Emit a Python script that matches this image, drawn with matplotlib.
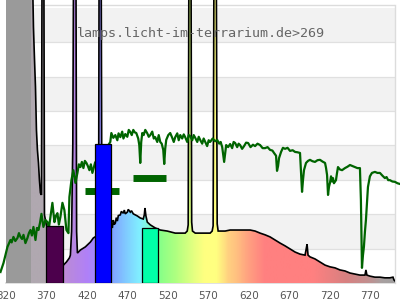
import numpy as np
import matplotlib
matplotlib.use("Agg")
import matplotlib.pyplot as plt
from matplotlib.colors import LinearSegmentedColormap
from matplotlib.patches import Polygon

# ---- data ----
lamp_nm = [320.0, 351.4, 352.7, 353.9, 355.1, 356.4, 357.6, 358.8, 360.1, 361.3, 362.5, 363.8,
           364.8, 366.5, 367.5, 368.7, 369.9, 380.0, 389.7, 390.9, 394.6, 398.3, 399.5,
           401.0, 402.5, 403.9, 406.1, 407.2, 408.2, 411.9, 418.0, 424.2, 427.9, 434.3,
           435.2, 437.2, 438.5, 446.4, 450.1, 451.3, 452.5, 453.7, 455.0, 456.2, 457.5, 458.7,
           461.2, 462.4, 464.9, 466.1, 467.3, 469.8, 471.0, 473.5, 475.0, 477.2, 482.1, 485.8,
           489.5, 490.8, 491.6, 492.8, 494.5, 498.2, 504.3, 510.5, 519.1, 529.0, 535.2, 541.3,
           543.8, 545.0, 546.2, 548.2, 549.3, 550.3, 553.7, 559.8, 566.0, 572.1, 574.6, 575.8,
           577.2, 579.3, 580.8, 582.0, 584.5, 590.6, 596.8, 609.1, 621.5, 627.6, 633.8, 640.0,
           646.1, 652.3, 658.5, 664.6, 670.8, 677.0, 683.1, 689.3, 690.5, 691.8, 693.0, 695.4,
           701.6, 707.8, 714.0, 720.1, 726.3, 732.4, 738.6, 744.8, 750.9, 757.1, 763.3, 764.5,
           765.7, 769.4, 775.6, 781.8, 787.9, 794.1, 797.9, 799.1, 800.4]
lamp_val = [12, 12, 9.0, 7.44, 6.57, 5.70, 4.45, 3.87, 3.49, 2.99, 2.62, 2.56,
            12, 12, 1.98, 1.83, 1.69, 1.00, 0.52, 0.52, 0.61, 0.73, 0.81,
            1.5, 4.0, 12, 12, 1.5, 0.87, 0.96, 1.05, 1.19, 1.31, 1.40,
            12, 12, 1.45, 1.55, 1.69, 1.60, 1.83, 1.70, 1.74, 1.90, 1.80, 1.96,
            1.98, 2.08, 2.03, 2.12, 2.01, 2.06, 2.14, 2.06, 2.10, 2.01, 1.95, 1.89,
            1.86, 1.98, 2.18, 1.95, 1.77, 1.69, 1.60, 1.54, 1.51, 1.45, 1.45, 1.45,
            1.51, 1.69, 12, 12, 1.77, 1.51, 1.45, 1.45, 1.45, 1.45, 1.51, 1.66,
            12, 12, 1.72, 1.51, 1.51, 1.51, 1.54, 1.54, 1.54, 1.51, 1.45, 1.40,
            1.34, 1.25, 1.16, 1.08, 0.99, 0.90, 0.84, 0.81, 0.96, 1.13, 0.81, 0.76,
            0.70, 0.61, 0.52, 0.47, 0.44, 0.38, 0.35, 0.29, 0.26, 0.23, 0.23, 0.38,
            0.23, 0.20, 0.17, 0.17, 0.15, 0.15, 0.17, 0.09, 0.06]

sun_nm = [313.2, 316.9, 321.8, 325.5, 327.0, 329.2, 331.5, 334.2, 336.0, 337.9, 339.8, 341.6,
          344.0, 346.5, 348.3, 350.2, 352.0, 353.9, 356.4, 358.2, 360.1, 362.0, 363.8, 366.2,
          368.7, 371.2, 373.0, 374.9, 377.3, 379.8, 381.6, 383.5, 385.3, 387.2, 389.7, 392.1,
          394.6, 397.1, 398.3, 400.8, 403.2, 405.7, 408.2, 410.0, 411.9, 413.7, 415.6, 417.4,
          419.3, 421.1, 423.0, 424.8, 426.7, 430.0, 436.0, 442.0, 446.4, 448.8, 450.1, 452.5,
          455.0, 457.5, 459.0, 461.2, 463.5, 465.0, 467.3, 469.8, 471.6, 473.5, 475.3, 477.2,
          479.0, 480.9, 483.3, 484.6, 485.8, 487.0, 488.3, 490.0, 492.0, 494.5, 496.3, 498.2,
          500.6, 502.5, 504.3, 506.8, 508.6, 510.5, 512.3, 514.2, 515.4, 516.6, 517.9, 520.4,
          522.8, 525.3, 527.2, 529.0, 531.5, 533.3, 535.2, 537.6, 539.5, 541.3, 543.8, 545.6,
          547.5, 550.0, 551.8, 553.7, 556.2, 558.0, 559.8, 562.3, 564.1, 566.0, 568.4, 570.3,
          572.1, 575.2, 578.3, 580.8, 583.3, 585.1, 587.0, 589.4, 591.9, 594.3, 596.8, 599.3,
          601.1, 603.0, 605.5, 607.3, 609.1, 611.6, 614.0, 616.5, 619.0, 622.0, 625.0, 627.6,
          630.6, 633.8, 636.9, 640.0, 643.0, 646.1, 649.0, 651.0, 653.5, 654.7, 656.0, 657.2,
          659.7, 662.0, 664.6, 667.7, 670.8, 674.0, 677.0, 680.0, 683.1, 684.4, 685.6, 686.8,
          688.0, 690.5, 693.0, 695.4, 698.5, 701.6, 704.7, 707.8, 710.9, 714.0, 715.2, 716.5,
          717.7, 718.9, 720.1, 721.4, 722.6, 723.8, 725.0, 727.5, 728.8, 730.0, 732.4, 735.0,
          738.6, 741.7, 744.8, 747.8, 750.9, 754.0, 757.1, 758.3, 759.6, 760.8, 762.0, 763.3,
          764.5, 765.7, 767.0, 769.4, 771.9, 775.6, 778.7, 781.8, 784.9, 787.9, 790.0, 792.0,
          794.1, 797.2, 800.4, 803.4, 806.3]
sun_val = [0.32, 0.58, 1.05, 1.25, 1.18, 1.34, 1.22, 1.31, 1.45, 1.34, 1.28, 1.40,
           1.16, 1.31, 1.45, 1.54, 1.38, 1.63, 1.25, 1.60, 1.54, 1.75, 2.01, 1.63,
           1.83, 1.77, 1.60, 1.92, 2.33, 1.77, 1.95, 2.03, 1.70, 1.92, 2.33, 2.12,
           1.54, 1.45, 2.50, 2.99, 3.28, 2.91, 3.20, 3.45, 3.37, 3.52, 3.34, 3.55,
           3.49, 3.40, 3.28, 3.45, 3.20, 3.50, 3.70, 3.90, 4.01, 4.10, 4.36, 4.22,
           4.30, 4.15, 4.35, 4.24, 4.40, 4.20, 4.33, 4.25, 4.45, 4.39, 4.30, 4.45,
           4.38, 4.36, 4.20, 4.01, 3.49, 4.10, 4.36, 4.30, 4.45, 4.35, 4.25, 4.30,
           4.40, 4.20, 4.24, 4.10, 4.30, 4.10, 4.05, 3.87, 3.46, 3.90, 4.16, 4.30,
           4.36, 4.22, 4.10, 4.24, 4.35, 4.15, 4.30, 4.20, 4.32, 4.24, 4.10, 4.30,
           4.27, 4.15, 4.30, 4.22, 4.10, 4.25, 4.16, 4.05, 4.20, 4.10, 3.98, 4.15,
           4.10, 4.20, 4.12, 4.16, 4.05, 4.10, 3.95, 3.52, 4.01, 3.95, 4.04, 3.92,
           4.10, 4.07, 3.95, 4.05, 4.01, 3.90, 3.98, 4.08, 4.07, 3.95, 4.02, 3.98,
           4.05, 4.01, 3.92, 3.92, 3.95, 3.87, 3.85, 3.78, 3.70, 3.26, 3.40, 3.63,
           3.81, 3.93, 3.90, 3.93, 3.84, 3.86, 3.81, 3.80, 3.78, 3.20, 2.65, 3.00,
           3.28, 3.49, 3.55, 3.58, 3.54, 3.52, 3.57, 3.58, 3.53, 3.49, 3.35, 3.14,
           2.56, 2.80, 2.91, 3.10, 2.95, 3.05, 2.90, 2.99, 3.20, 3.37, 3.30, 3.28,
           3.34, 3.38, 3.43, 3.40, 3.37, 3.34, 3.34, 2.41, 0.44, 0.80, 1.05, 1.50,
           1.83, 2.30, 2.79, 3.10, 3.20, 3.23, 3.20, 3.20, 3.12, 3.05, 3.08, 2.99,
           2.99, 2.95, 2.94, 2.90, 2.88]

bar_start = [320.6, 369.9, 429.5, 487.4]
bar_end = [351.4, 390.5, 449.3, 507.2]
bar_height = [8.3, 1.66, 4.04, 1.59]
bar_colors = ['#9a9a9a', '#4c004c', '#0000ff', '#00ffa8']

dash_start = [418.0, 477.2]
dash_end = [459.9, 517.9]
dash_val = [2.66, 3.04]

tick_nm = [320, 370, 420, 470, 520, 570, 620, 670, 720, 770]
title = "lamps.licht-im-terrarium.de>269"

stop_nm = [318, 379, 381, 400, 420, 436, 450, 470, 485, 500, 510, 530, 550, 565, 580,
           595, 605, 620, 640, 700, 740, 770, 785, 806]
stop_col = ['#b0a8b0', '#b0a8b0', '#c890cc', '#b888e0', '#b080f8', '#9890ff', '#80a0ff',
            '#80d0ff', '#80f0ff', '#80ffc0', '#88ff88', '#b0ff80', '#e0ff80', '#ffff80',
            '#ffff80', '#ffd080', '#ffc080', '#ffa080', '#ff8080', '#ff8080', '#d88080',
            '#c09090', '#a8a0a0', '#a0a0a0']

# ---- figure ----
fig = plt.figure(figsize=(4, 3), dpi=100)
ax = fig.add_axes([6 / 400, 17 / 300, 389 / 400, 283 / 300])
XMIN, XMAX = 320.6, 800.4
YTOP = 283 / 34.4
FRAME = 278 / 34.4

for lo in [1, 3, 5, 7]:
    ax.axhspan(lo, lo + 1, color='#f2f2f2', lw=0, zorder=0)
for y in range(1, 8):
    ax.axhline(y, color='#e0e0e0', lw=0.9, zorder=0.2)
ax.plot([XMIN, XMAX], [FRAME, FRAME], color='#dcdcdc', lw=1.0, zorder=0.3)
ax.plot([XMAX, XMAX], [0, FRAME], color='#dcdcdc', lw=1.0, zorder=0.3, clip_on=False)
ax.plot([XMIN, XMAX], [0, 0], color='#dcdcdc', lw=1.2, zorder=0.3, clip_on=False)

# gradient-filled lamp spectrum
s0, s1 = stop_nm[0], stop_nm[-1]
cmap = LinearSegmentedColormap.from_list(
    'spec', [((w - s0) / (s1 - s0), c) for w, c in zip(stop_nm, stop_col)])
img = ax.imshow(np.linspace(0, 1, 1000)[None, :], extent=(s0, s1, 0, 12), cmap=cmap,
                aspect='auto', interpolation='bilinear', zorder=1)
poly = Polygon(np.column_stack([[lamp_nm[0]] + lamp_nm + [lamp_nm[-1]],
                                [0] + lamp_val + [0]]),
               closed=True, facecolor='none', edgecolor='none')
ax.add_patch(poly)
img.set_clip_path(poly)

# gray bar (UV)
ax.bar(bar_start[0], bar_height[0], width=bar_end[0] - bar_start[0], align='edge',
       color=bar_colors[0], lw=0, zorder=1.5)

ax.plot(lamp_nm, lamp_val, color='black', lw=1.2, zorder=2, solid_joinstyle='miter')

ax.plot(sun_nm, sun_val, color='#006400', lw=1.6, zorder=3, clip_on=False)

for a, b, v in zip(dash_start, dash_end, dash_val):
    ax.plot([a, b], [v, v], color='#006400', lw=5.0, solid_capstyle='butt', zorder=3.5)

for a, b, h, c in zip(bar_start[1:], bar_end[1:], bar_height[1:], bar_colors[1:]):
    ax.bar(a, h, width=b - a, align='edge', color=c, edgecolor='black', lw=0.9, zorder=4)

ax.set_xlim(XMIN, XMAX)
ax.set_ylim(0, YTOP)
ax.set_xticks(tick_nm)
ax.set_xticklabels([str(t) for t in tick_nm])
ax.set_yticks([])
ax.tick_params(axis='x', length=0, pad=5.5, labelsize=7.5, labelcolor='#555555')
for s in ax.spines.values():
    s.set_visible(False)

fig.text(77 / 400, 1 - 37 / 300, title, family='DejaVu Sans Mono', fontsize=9.6,
         color='#666666', va='baseline', ha='left')

fig.savefig('out.png', dpi=100)
